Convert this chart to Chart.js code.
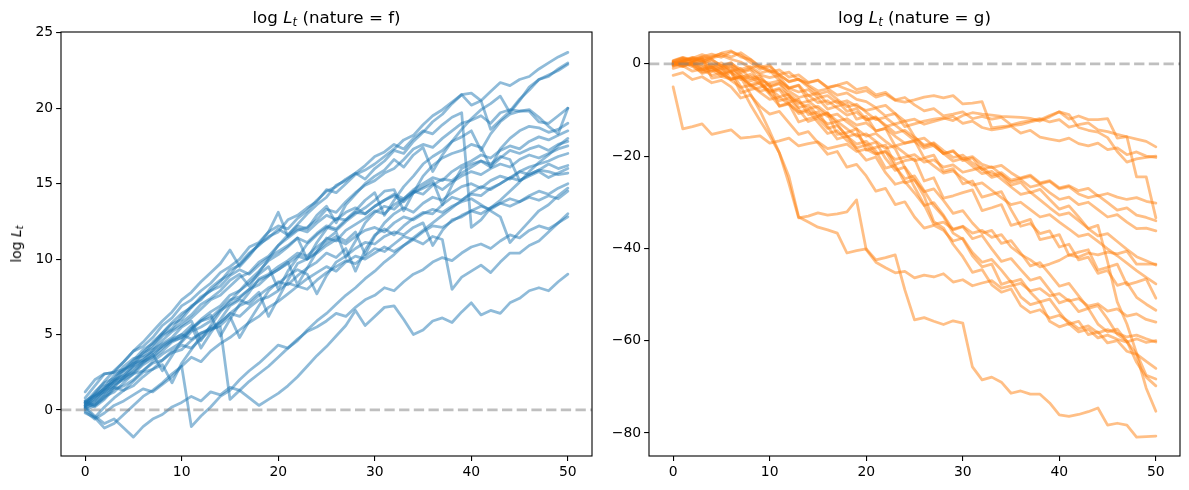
<!DOCTYPE html>
<html>
<head>
<meta charset="utf-8">
<script src="https://cdn.jsdelivr.net/npm/chart.js@4"></script>
<style>
body{margin:0;background:#fff;width:1189px;height:490px;position:relative;overflow:hidden;font-family:"DejaVu Sans",sans-serif;color:#000}
.panel{position:absolute;top:0;height:490px}
.ttl{position:absolute;top:9px;font-size:16.7px;line-height:1;white-space:nowrap;transform:translateX(-50%)}
.ylab{position:absolute;left:17px;top:244px;font-size:13.9px;line-height:1;white-space:nowrap;transform:translate(-50%,-50%) rotate(-90deg)}
sub{font-size:0.7em;vertical-align:-0.25em;line-height:0;font-style:italic}
</style>
</head>
<body>
<div class="panel" style="left:0;width:600px"><canvas id="chartF" width="600" height="490"></canvas></div>
<div class="panel" style="left:600px;width:589px"><canvas id="chartG" width="589" height="490"></canvas></div>
<div class="ttl" style="left:326.5px">log <i>L</i><sub>t</sub> (nature = f)</div>
<div class="ttl" style="left:914.5px">log <i>L</i><sub>t</sub> (nature = g)</div>
<div class="ylab">log <i>L</i><sub>t</sub></div>
<script>
// time steps and tick labels
const steps = [0,1,2,3,4,5,6,7,8,9,10,11,12,13,14,15,16,17,18,19,20,21,22,23,24,25,26,27,28,29,30,31,32,33,34,35,36,37,38,39,40,41,42,43,44,45,46,47,48,49,50];
const xTicks = [0, 10, 20, 30, 40, 50];
const fTicks = [0, 5, 10, 15, 20, 25];
const gTicks = [0, -20, -40, -60, -80];

// log L_t paths, nature = f
const f01 = [0.5,1.2,1.8,2.1,2.9,3.4,3.6,4.3,5.0,5.4, 6.2,6.9,7.3,8.1,8.6,9.0,9.7,10.4,10.9,11.5, 11.8,12.6,12.9,13.4,13.8,14.6,14.4,15.0,15.6,15.9, 16.3,16.8,17.3,17.9,18.2,18.9,19.5,19.9,20.4,20.9, 21.0,20.5,21.1,21.7,21.5,21.9,22.1,22.6,23.0,23.4, 23.7];
const f02 = [0.2,0.8,1.5,2.3,2.6,3.3,4.0,4.4,5.1,5.7, 6.0,6.8,7.4,7.9,8.5,9.3,9.6,10.3,11.0,11.4, 12.0,11.6,12.3,13.0,13.6,14.1,14.9,15.2,15.7,15.3, 16.0,16.5,17.2,17.0,17.8,18.4,19.1,19.6,20.3,20.9, 20.2,20.5,18.6,19.2,19.8,20.6,21.2,21.9,22.1,22.6, 23.0];
const f03 = [0.4,0.9,1.4,2.0,2.7,3.0,3.8,4.1,4.9,5.3, 5.8,6.3,7.0,7.4,7.9,8.6,9.0,8.2,9.1,10.0, 10.9,11.6,12.2,12.0,12.9,13.5,12.4,13.6,14.3,15.0, 15.5,15.9,16.6,16.1,16.9,17.4,15.8,16.9,17.8,18.6, 19.3,19.9,20.3,20.8,19.7,20.5,21.4,21.9,22.2,22.5, 22.9];
const f04 = [0.3,0.6,1.3,1.9,2.3,3.0,3.5,3.9,4.6,5.2, 5.6,6.1,6.7,7.3,7.6,8.2,8.8,9.1,9.8,10.2, 10.9,11.4,11.9,12.1,12.6,13.3,13.1,13.8,14.4,14.9, 15.2,15.7,16.0,16.6,17.3,17.6,17.4,18.0,18.5,19.0, 19.2,19.5,19.0,19.7,19.9,19.8,19.9,19.4,18.8,18.3, 20.0];
const f05 = [0.6,1.0,1.6,1.8,2.6,3.1,3.3,4.0,4.4,4.8, 5.5,5.9,4.6,5.6,6.5,7.2,7.9,8.6,9.2,9.9, 10.3,10.8,11.4,10.0,11.1,12.0,12.7,12.6,13.2,13.9, 14.4,12.9,13.9,14.8,15.5,16.3,16.8,17.2,17.8,18.1, 18.5,17.2,18.3,19.1,19.6,19.8,19.8,19.1,19.0,19.5, 20.0];
const f06 = [0.1,0.5,1.1,1.5,2.2,2.5,3.1,3.7,2.6,3.6, 4.6,5.4,6.0,6.5,6.9,7.6,7.9,8.4,9.0,9.5, 8.0,9.2,10.1,11.0,11.6,12.1,11.9,12.5,13.0,13.4, 13.9,14.5,14.6,13.2,14.4,15.5,16.2,16.7,17.0,17.2, 17.6,17.4,16.1,17.3,18.0,18.5,18.8,18.7,18.4,18.6, 19.0];
const f07 = [0.8,1.6,2.4,2.5,3.2,3.9,4.2,4.8,5.6,6.1, 6.9,7.3,7.9,8.4,9.1,9.5,10.0,10.8,11.1,11.8, 12.2,12.0,12.7,13.2,13.9,14.5,14.8,15.3,15.7,16.2, 16.8,17.1,17.6,17.3,18.0,18.5,18.3,18.9,19.4,19.7, 12.1,12.6,13.4,13.9,14.5,15.1,15.8,16.4,16.9,17.5, 18.0];
const f08 = [0.2,0.4,1.0,1.7,2.0,2.4,3.0,3.4,3.9,4.5, 4.8,5.3,5.9,6.3,4.9,6.0,7.0,7.8,8.7,9.0, 9.5,9.9,10.4,10.2,10.8,11.3,11.8,10.1,11.2,12.4, 13.1,13.5,13.3,13.9,14.4,14.8,15.2,13.6,14.9,16.0, 16.3,16.5,16.1,16.7,17.2,17.0,17.3,17.5,17.2,17.6, 17.8];
const f09 = [0.3,1.1,1.9,2.6,3.2,3.9,4.5,5.2,5.9,6.5, 7.3,7.8,8.5,9.1,9.7,10.6,9.5,10.2,11.0,11.8, 13.1,11.5,12.0,11.8,12.4,12.9,12.6,13.1,13.4,13.0, 13.5,13.9,14.2,13.8,14.4,14.7,15.0,14.6,15.1,15.5, 15.8,15.6,16.0,16.3,16.1,16.6,16.9,16.7,17.0,17.3, 17.5];
const f10 = [-0.2,-0.5,0.2,0.8,1.3,1.6,2.2,2.7,3.0,1.8, 3.1,4.0,4.9,5.5,5.8,6.4,6.9,7.2,7.8,6.2, 7.4,8.6,9.7,10.0,10.5,11.1,11.5,11.2,11.8,10.3, 11.5,12.4,13.0,13.4,13.1,13.7,14.1,13.9,14.4,14.8, 15.0,14.7,15.2,15.5,15.3,15.8,15.6,15.9,16.3,16.0, 16.2];
const f11 = [0.0,0.3,0.9,1.2,1.8,2.4,2.6,3.2,3.7,4.1, 4.5,5.2,5.5,5.9,6.6,7.0,7.4,8.0,8.3,8.9, 9.3,9.8,8.3,9.4,10.5,11.4,11.2,11.9,12.3,12.7, 13.2,13.0,13.6,14.0,14.5,14.3,14.9,15.3,15.2,15.7, 16.1,16.5,16.3,16.8,16.6,15.2,15.5,15.8,15.4,15.7, 16.0];
const f12 = [0.5,0.2,0.7,1.4,1.6,2.0,2.6,3.1,3.3,3.9, 4.3,4.1,4.7,5.3,5.6,6.2,4.8,5.9,6.9,7.9, 8.5,8.3,8.9,9.4,9.8,10.4,10.1,10.7,9.2,10.6, 11.6,12.0,11.6,12.2,12.7,13.1,13.0,13.6,14.1,13.9, 14.4,14.8,14.6,15.0,15.4,15.2,15.6,15.9,15.8,15.6, 15.7];
const f13 = [0.4,0.9,1.2,1.9,2.1,2.6,3.2,3.5,4.1,4.6, 4.8,5.4,5.9,6.1,6.7,7.3,7.5,8.0,8.6,8.9, 9.3,9.7,10.2,10.0,10.4,10.9,11.3,11.0,11.5,11.9, 12.1,11.8,12.4,12.8,12.6,13.0,13.3,13.1,13.5,13.8, 14.0,13.6,13.2,12.8,11.1,11.8,12.5,13.2,13.6,14.2, 14.7];
const f14 = [0.1,-0.5,-1.2,-0.9,-0.3,0.3,0.9,1.3,1.8,2.4, 2.9,3.5,3.2,3.9,4.4,4.8,5.3,5.8,6.2,6.8, 7.2,7.7,8.2,8.0,8.6,9.1,9.5,9.9,9.7,10.2, 10.7,10.5,11.0,11.5,11.3,11.8,12.2,12.1,12.5,12.9, 13.2,13.0,13.4,13.7,13.5,13.8,14.1,13.9,14.2,14.0, 14.5];
const f15 = [0.6,0.3,0.8,1.5,1.3,1.9,2.5,2.7,3.3,3.8, 4.0,4.6,5.1,5.3,5.8,6.4,6.2,6.8,7.3,7.5, 7.9,8.4,8.2,8.7,9.1,9.5,9.2,9.8,10.2,10.0, 10.4,10.8,10.5,10.9,11.3,11.0,11.5,11.3,8.0,8.8, 9.2,9.6,9.1,9.8,10.4,10.4,10.9,11.2,11.8,12.4, 13.0];
const f16 = [-0.1,-0.6,-0.2,0.3,0.6,1.0,1.4,1.2,1.7,2.2, 2.9,-1.1,-0.4,0.2,0.9,1.3,2.0,2.6,3.1,3.7, 4.3,4.1,4.7,5.2,5.5,5.9,6.4,6.2,6.8,7.3, 7.6,8.1,7.9,8.5,9.0,9.3,9.8,10.1,9.9,10.4, 10.8,11.0,10.7,11.2,11.6,11.4,11.9,12.2,12.0,12.4, 12.8];
const f17 = [0.2,-0.4,-0.9,-0.6,-1.2,-1.8,-1.1,-0.6,-0.3,0.2, 0.5,0.9,0.6,1.2,1.0,1.5,1.3,0.8,0.3,0.7, 1.1,1.6,2.2,2.9,3.6,4.2,4.9,5.6,6.6,5.6, 6.2,6.8,6.9,6.0,5.0,5.3,5.9,6.1,5.8,6.5, 7.1,6.3,6.6,6.4,7.1,7.4,7.9,8.1,7.9,8.5, 9.0];
const f18 = [1.2,2.0,2.4,2.5,2.7,3.2,3.8,4.5,5.1,5.8, 6.4,6.8,7.5,7.9,8.2,8.9,9.3,9.0,9.6,10.1, 10.5,10.9,11.4,11.1,11.7,12.2,12.0,12.6,13.1,13.0, 13.5,13.9,14.3,14.0,14.6,15.0,15.4,15.2,15.8,16.2, 16.5,16.9,16.7,17.2,17.5,17.3,17.8,18.1,17.9,18.2, 18.5];
const f19 = [0.3,0.7,1.3,1.6,2.1,2.8,3.2,3.6,4.3,4.7, 5.0,5.6,4.1,5.1,6.0,6.9,7.3,7.0,7.6,8.1, 8.4,8.9,9.3,9.0,7.7,8.9,9.8,10.2,10.7,11.1, 11.0,11.5,11.8,11.6,12.1,12.4,10.9,11.9,12.6,12.8, 13.2,13.5,13.3,13.7,14.0,13.8,14.2,14.5,14.3,14.7, 15.0];
const f20 = [0.5,1.0,1.4,2.0,2.3,2.9,3.3,3.8,4.2,4.6, 5.0,4.7,5.1,5.4,5.5,0.7,1.3,1.9,2.4,2.9, 3.5,4.1,4.6,5.3,5.9,6.4,7.0,7.6,8.1,8.7, 9.2,9.8,10.3,10.9,11.4,11.9,12.4,12.9,13.4,13.9, 14.3,14.2,14.7,15.0,15.4,15.8,16.1,16.3,16.5,16.8, 17.0];

// log L_t paths, nature = g
const g01 = [0.0,0.6,1.1,0.5,1.3,1.8,1.0,0.4,-0.9,-0.3, -1.5,-2.3,-1.8,-3.5,-4.1,-3.6,-5.2,-4.7,-5.5,-6.3, -5.8,-7.2,-6.6,-7.9,-8.3,-7.8,-7.2,-6.9,-7.4,-6.9, -8.7,-8.5,-8.2,-13.9,-13.6,-13.4,-13.2,-12.6,-12.1,-11.2, -10.4,-12.0,-11.3,-12.1,-12.1,-11.9,-16.1,-15.8,-16.3,-16.8, -18.0];
const g02 = [0.2,-0.4,0.3,0.9,0.2,-0.8,-0.3,-1.6,-1.1,-2.4, -3.0,-2.5,-3.8,-3.3,-4.6,-5.9,-5.4,-6.8,-6.3,-7.7, -8.2,-9.5,-9.0,-10.8,-13.6,-13.0,-12.4,-12.0,-11.7,-12.3, -11.2,-10.6,-10.9,-11.1,-11.4,-11.5,-11.6,-11.8,-12.4,-11.5, -10.4,-11.0,-13.8,-14.4,-14.8,-16.0,-19.0,-21.3,-20.6,-20.3, -20.0];
const g03 = [-0.5,0.3,-0.2,-1.4,-0.8,-2.0,-1.5,-2.9,-2.3,-3.6, -4.2,-3.7,-5.3,-6.1,-5.6,-7.3,-6.9,-8.5,-8.0,-9.2, -10.1,-9.6,-11.3,-10.8,-12.4,-12.0,-13.1,-12.5,-11.9,-11.4, -12.9,-12.4,-13.8,-14.3,-14.0,-13.5,-15.0,-14.4,-15.9,-16.3, -16.7,-16.1,-17.3,-17.8,-17.2,-18.6,-18.2,-19.7,-19.1,-20.0, -20.3];
const g04 = [-5.0,-14.1,-13.6,-13.0,-15.3,-14.8,-14.3,-16.1,-15.9,-15.6, -17.2,-16.7,-16.1,-17.8,-17.3,-16.9,-18.4,-17.9,-17.4,-19.0, -18.5,-19.6,-19.1,-20.7,-20.2,-19.7,-21.3,-20.8,-22.4,-21.9, -23.5,-23.0,-22.4,-24.1,-23.6,-25.2,-24.7,-24.1,-25.8,-25.3, -26.9,-26.4,-27.5,-27.0,-28.6,-28.1,-28.9,-29.4,-29.0,-29.8, -30.2];
const g05 = [0.1,0.7,1.4,0.9,1.6,2.2,1.5,2.4,1.0,-0.6, -1.8,-1.3,-2.9,-2.4,-4.0,-3.5,-5.1,-4.6,-4.0,-5.6, -5.1,-6.7,-6.2,-7.8,-7.3,-8.9,-10.2,-9.7,-11.3,-10.9, -10.4,-11.9,-11.4,-12.0,-11.6,-13.2,-12.7,-12.3,-11.9,-12.6, -12.1,-13.7,-13.2,-12.8,-14.3,-14.7,-15.3,-15.8,-24.5,-24.5, -33.4];
const g06 = [-0.3,0.2,-0.6,-1.8,-1.2,-2.7,-3.3,-2.8,-4.5,-5.9, -5.4,-7.1,-6.6,-8.2,-9.7,-9.2,-10.8,-12.4,-11.9,-13.3, -12.8,-14.5,-14.0,-15.7,-17.2,-16.8,-18.3,-17.7,-19.4,-19.0, -20.6,-20.1,-21.8,-22.5,-22.0,-23.6,-24.9,-24.4,-26.0,-25.5, -27.1,-26.6,-28.2,-29.0,-28.5,-30.1,-31.7,-31.2,-32.8,-33.3, -34.0];
const g07 = [0.4,-0.2,0.5,-0.7,-0.2,-1.5,-0.9,-2.3,-3.7,-3.1, -4.8,-4.2,-5.9,-7.3,-6.8,-8.4,-8.0,-9.6,-11.1,-10.5, -12.2,-11.7,-13.3,-15.0,-14.4,-16.0,-17.6,-17.1,-18.8,-20.3, -19.8,-21.5,-22.9,-22.3,-24.0,-25.6,-25.1,-26.7,-26.2,-27.9, -29.4,-28.9,-30.5,-30.0,-31.6,-33.2,-32.7,-34.3,-35.7,-35.6, -36.2];
const g08 = [0.0,0.5,-0.3,0.4,-0.9,-0.4,-1.9,-3.4,-2.8,-4.4, -5.9,-5.3,-7.0,-8.6,-8.1,-9.7,-11.4,-10.9,-12.6,-14.1, -15.7,-15.1,-16.8,-18.4,-22.5,-26.7,-30.5,-34.8,-34.3,-35.8, -35.2,-36.7,-36.1,-37.6,-37.0,-39.7,-41.3,-42.5,-44.0,-43.4, -42.6,-41.4,-41.9,-41.0,-41.4,-40.8,-41.2,-40.6,-43.4,-43.4, -43.4];
const g09 = [0.6,1.3,0.7,1.5,2.1,1.4,2.6,1.9,0.3,-1.2, -0.6,-2.3,-3.9,-3.3,-5.0,-6.6,-6.0,-7.7,-9.3,-8.8, -10.5,-12.1,-11.6,-13.3,-14.9,-16.6,-16.1,-17.8,-19.4,-21.1, -20.5,-22.2,-23.8,-23.3,-25.0,-26.7,-28.3,-27.8,-29.5,-31.2, -32.8,-32.3,-34.0,-35.7,-37.3,-36.8,-38.5,-40.2,-41.8,-42.7, -43.6];
const g10 = [-1.0,-0.4,-1.6,-1.1,-2.5,-2.0,-3.6,-5.1,-4.6,-6.2, -7.7,-7.2,-8.8,-10.4,-9.9,-11.5,-13.0,-12.5,-14.1,-15.7, -15.2,-16.8,-18.3,-17.8,-19.4,-21.0,-20.5,-22.1,-23.7,-23.2, -24.8,-26.3,-25.8,-27.4,-29.0,-30.5,-30.0,-31.6,-33.2,-32.7, -34.3,-35.8,-37.4,-36.9,-38.5,-40.1,-41.6,-43.2,-44.8,-46.3, -47.7];
const g11 = [0.2,0.9,0.4,1.3,-3.1,-2.7,-1.8,-6.3,-5.6,-5.1, -4.4,-9.2,-8.7,-12.6,-11.9,-11.4,-10.8,-15.3,-14.9,-14.1, -18.7,-18.1,-17.6,-21.8,-21.0,-20.6,-25.4,-24.7,-29.1,-28.6, -27.9,-27.3,-31.8,-31.2,-30.5,-35.0,-34.4,-33.7,-38.1,-37.6, -37.0,-41.5,-40.8,-40.3,-44.7,-44.1,-43.4,-47.9,-47.3,-46.6, -50.8];
const g12 = [-0.2,0.5,0.1,-1.3,-0.7,-2.2,-1.6,-4.9,-8.8,-12.3, -15.6,-19.3,-26.0,-33.4,-33.0,-32.3,-32.8,-32.5,-32.1,-29.5, -40.3,-43.0,-44.2,-45.3,-45.0,-46.4,-45.8,-46.2,-45.5,-47.3, -46.8,-48.1,-47.5,-47.0,-48.6,-48.1,-47.6,-49.2,-48.7,-50.3, -49.8,-51.4,-50.9,-52.5,-52.0,-53.6,-53.1,-54.7,-54.2,-55.4, -56.0];
const g13 = [0.5,1.2,0.6,1.4,0.9,-0.4,0.3,-1.9,-1.3,-3.7, -6.2,-5.6,-8.3,-7.7,-11.0,-10.4,-13.6,-16.3,-15.7,-17.4, -16.8,-18.9,-22.6,-22.0,-25.8,-25.1,-28.7,-34.2,-35.6,-39.1, -41.8,-45.2,-44.6,-47.9,-49.5,-48.8,-52.4,-53.9,-53.3,-55.1, -54.5,-55.9,-57.4,-56.8,-58.3,-57.6,-58.4,-59.2,-58.8,-59.6, -60.3];
const g14 = [-0.4,0.2,-0.3,-2.1,-1.5,-0.8,-3.3,-2.7,-4.9,-4.2, -6.6,-9.1,-8.5,-10.8,-10.2,-12.7,-15.1,-14.5,-16.6,-18.2, -17.6,-19.5,-18.9,-22.4,-24.9,-24.3,-27.5,-30.8,-33.1,-36.7, -38.0,-41.6,-44.0,-43.4,-47.8,-47.1,-50.5,-52.2,-51.6,-55.8, -57.0,-56.3,-58.1,-57.5,-59.4,-58.8,-59.7,-60.3,-59.6,-60.4, -60.0];
const g15 = [0.1,-0.6,0.3,-0.3,-1.7,-1.1,-0.5,-2.8,-4.5,-3.9, -6.3,-8.0,-7.4,-9.9,-12.5,-11.8,-14.0,-13.4,-15.6,-18.5, -20.9,-20.2,-23.6,-26.1,-25.5,-28.0,-30.7,-30.1,-32.8,-36.0, -35.3,-37.9,-37.2,-40.1,-42.8,-42.2,-44.6,-46.9,-46.3,-49.0, -51.8,-51.1,-53.7,-53.0,-56.4,-58.1,-57.5,-60.2,-62.9,-64.5, -66.0];
const g16 = [0.7,1.4,0.8,0.2,0.9,-0.5,0.1,-1.2,-0.6,-2.0, -1.4,-3.6,-5.2,-4.6,-6.9,-6.3,-8.7,-8.0,-10.3,-9.7, -12.1,-11.5,-13.6,-13.0,-12.4,-15.8,-17.9,-17.3,-19.5,-18.8, -21.0,-20.4,-22.9,-24.6,-24.0,-26.3,-25.7,-27.9,-27.2,-29.4, -31.5,-30.8,-33.2,-35.7,-35.0,-42.9,-51.6,-56.4,-62.7,-67.5, -68.3];
const g17 = [0.0,0.6,1.3,0.7,-0.5,0.2,-1.6,-1.0,-3.2,-2.6, -5.0,-4.3,-6.8,-9.5,-8.9,-11.2,-10.6,-13.1,-15.8,-15.2, -17.6,-17.0,-20.5,-23.1,-22.4,-25.2,-27.7,-27.1,-29.6,-32.4, -31.8,-34.5,-36.7,-36.1,-38.9,-38.3,-41.0,-43.8,-43.1,-45.6, -48.2,-47.6,-50.3,-53.0,-52.4,-55.3,-58.6,-60.1,-64.7,-67.9, -69.8];
const g18 = [-0.1,0.6,1.2,2.0,1.3,2.3,2.8,1.5,0.9,-0.8, -0.2,-2.9,-5.3,-4.7,-8.1,-7.5,-9.8,-9.2,-8.6,-12.0, -11.4,-14.6,-14.0,-17.8,-17.2,-16.6,-20.4,-19.8,-23.3,-22.7, -26.0,-25.4,-28.9,-28.3,-27.7,-31.6,-35.2,-34.6,-36.8,-36.2, -39.7,-39.1,-42.5,-41.9,-45.4,-44.8,-48.0,-47.4,-50.6,-52.1, -53.4];
const g19 = [-2.5,-1.9,-3.4,-2.8,-4.1,-3.6,-5.0,-7.4,-6.8,-9.2, -10.9,-10.3,-12.8,-15.3,-14.7,-17.1,-19.6,-19.0,-22.4,-21.8, -24.3,-27.6,-27.0,-30.5,-29.9,-33.2,-35.6,-35.0,-36.1,-38.4, -37.8,-40.9,-43.0,-42.4,-44.7,-47.3,-46.7,-49.5,-51.6,-51.0, -53.8,-56.4,-55.8,-58.7,-58.1,-60.5,-60.0,-62.3,-63.0,-70.3, -75.3];
const g20 = [0.3,-0.5,0.2,-1.1,-0.6,-2.0,-3.4,-2.9,-6.5,-10.2, -14.6,-19.3,-24.5,-33.2,-34.3,-35.4,-36.0,-36.7,-41.0,-40.5, -40.1,-42.5,-42.0,-41.4,-49.0,-55.5,-55.0,-55.8,-56.5,-55.7, -56.2,-65.7,-68.5,-67.9,-69.0,-71.4,-70.9,-71.6,-71.6,-73.5, -76.1,-76.4,-76.0,-75.4,-74.6,-78.3,-77.9,-78.3,-80.9,-80.8, -80.7];

const fRuns = [f01,f02,f03,f04,f05,f06,f07,f08,f09,f10,f11,f12,f13,f14,f15,f16,f17,f18,f19,f20];
const gRuns = [g01,g02,g03,g04,g05,g06,g07,g08,g09,g10,g11,g12,g13,g14,g15,g16,g17,g18,g19,g20];

// dashed zero line and the box round the plot
const frame = {
  id: 'frame',
  afterDatasetsDraw(chart) {
    const { ctx, chartArea: a } = chart;
    const y0 = chart.scales.y.getPixelForValue(0);
    ctx.save();
    ctx.strokeStyle = 'rgba(128,128,128,0.5)';
    ctx.lineWidth = 2.78;
    ctx.setLineDash([10.3, 4.4]);
    ctx.beginPath();
    ctx.moveTo(a.left, y0);
    ctx.lineTo(a.right, y0);
    ctx.stroke();
    ctx.setLineDash([]);
    ctx.strokeStyle = '#000';
    ctx.lineWidth = 1.1;
    ctx.strokeRect(a.left, a.top, a.right - a.left, a.bottom - a.top);
    ctx.restore();
  }
};

function tickOpts() {
  return {
    color: '#000',
    font: { family: 'DejaVu Sans', size: 13.9 },
    padding: 3,
    callback: v => String(v).replace('-', '\u2212')
  };
}

function gridOpts() {
  return { drawOnChartArea: false, color: '#000', lineWidth: 1.1, tickLength: 4.9 };
}

function makeChart(id, runs, colour, ymin, ymax, yTicks, yWidth, padRight) {
  return new Chart(document.getElementById(id), {
    type: 'line',
    data: {
      datasets: runs.map(r => ({
        data: r.map((v, i) => ({ x: steps[i], y: v })),
        borderColor: colour,
        borderWidth: 2.78,
        borderJoinStyle: 'round',
        borderCapStyle: 'round',
        pointRadius: 0,
        tension: 0,
        fill: false
      }))
    },
    options: {
      responsive: false,
      animation: false,
      events: [],
      layout: { padding: { left: 0, right: padRight, top: 32, bottom: 0 } },
      plugins: { legend: { display: false }, tooltip: { enabled: false } },
      scales: {
        x: {
          type: 'linear', min: -2.5, max: 52.5,
          grid: gridOpts(), border: { display: false }, ticks: tickOpts(),
          afterBuildTicks: s => { s.ticks = xTicks.map(v => ({ value: v })); },
          afterFit: s => { s.height = 34; }
        },
        y: {
          type: 'linear', min: ymin, max: ymax,
          grid: gridOpts(), border: { display: false }, ticks: tickOpts(),
          afterBuildTicks: s => { s.ticks = yTicks.map(v => ({ value: v })); },
          afterFit: s => { s.width = yWidth; }
        }
      }
    },
    plugins: [frame]
  });
}

makeChart('chartF', fRuns, 'rgba(31,119,180,0.5)', -3.05, 25.05, fTicks, 61, 8);
makeChart('chartG', gRuns, 'rgba(255,127,14,0.5)', -85.0, 6.9, gTicks, 49, 9);
</script>
</body>
</html>
